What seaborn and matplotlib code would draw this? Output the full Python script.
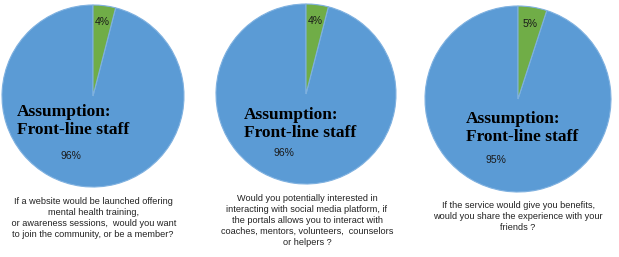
import matplotlib
matplotlib.use("Agg")
import matplotlib.pyplot as plt
import seaborn as sns

sns.set_theme(style="white")
plt.rcParams['font.family'] = ['Liberation Sans', 'DejaVu Sans']

# Data
categories = ["Yes", "No"]
pie_values = [[96, 4], [96, 4], [95, 5]]
overlay_label = "Assumption:\nFront-line staff"
questions = [
    "If a website would be launched offering\nmental health training,\n or awareness sessions,  would you want\nto join the community, or be a member?",
    "Would you potentially interested in\ninteracting with social media platform, if\nthe portals allows you to interact with\ncoaches, mentors, volunteers,  counselors\nor helpers ?",
    "If the service would give you benefits,\nwould you share the experience with your\nfriends ?",
]

colors = ["#5b9bd5", "#70ad47"]
W, H = 619, 257
fig = plt.figure(figsize=(W / 100, H / 100), dpi=100)

# pie geometry in pixels: (center x, center y from top, radius)
geoms = [(93, 96, 91), (306, 94, 90), (518, 99, 93)]
text_pos = [(17, 104), (244, 107), (466, 111)]
cap_pos = [(93, 197), (307, 194), (518, 201)]

for i, vals in enumerate(pie_values):
    cx, cy, r = geoms[i]
    ax = fig.add_axes([(cx - r) / W, (H - cy - r) / H, 2 * r / W, 2 * r / H])
    wedges, texts, autotexts = ax.pie(
        vals, colors=colors, startangle=90,
        counterclock=True, autopct='%d%%', pctdistance=0.82,
        wedgeprops=dict(edgecolor="#7fb1e0", linewidth=0.8),
        textprops=dict(fontsize=7.5, color="#1a1a1a"),
    )
    # blue label lower-left
    autotexts[0].set_position((-0.24, -0.66))
    ax.set_xlim(-1, 1)
    ax.set_ylim(-1, 1)
    ax.set_aspect('equal')
    ax.axis('off')
    tx, ty = text_pos[i]
    fig.text(tx / W, 1 - ty / H, overlay_label, ha='left', va='top',
             fontsize=12.5, fontweight='bold', family=['Liberation Serif'],
             color='black', linespacing=1.15)
    qx, qy = cap_pos[i]
    fig.text(qx / W, 1 - qy / H, questions[i], ha='center', va='top',
             fontsize=6.6, color='#222222', linespacing=1.3)

fig.savefig("out.png", dpi=100)
